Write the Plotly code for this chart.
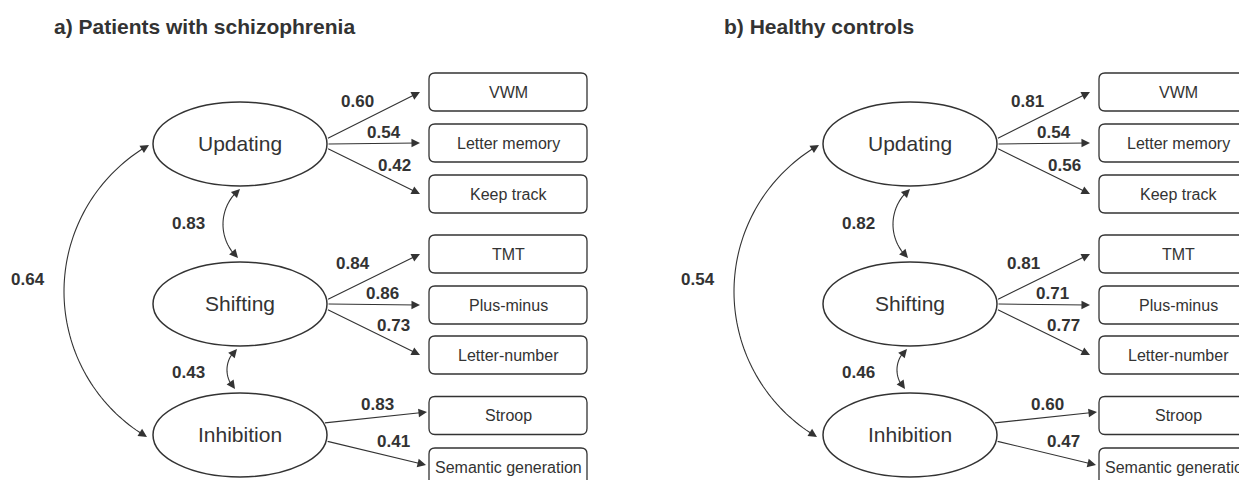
import numpy as np
import plotly.graph_objects as go

# ---------------- data ----------------
panel_titles = ["a) Patients with schizophrenia", "b) Healthy controls"]
factors = ["Updating", "Shifting", "Inhibition"]
indicators = ["VWM", "Letter memory", "Keep track", "TMT", "Plus-minus",
              "Letter-number", "Stroop", "Semantic generation"]
indicator_factor = [0, 0, 0, 1, 1, 1, 2, 2]
loadings_a = [0.60, 0.54, 0.42, 0.84, 0.86, 0.73, 0.83, 0.41]
loadings_b = [0.81, 0.54, 0.56, 0.81, 0.71, 0.77, 0.60, 0.47]
# factor correlations: Updating-Shifting, Shifting-Inhibition, Updating-Inhibition
corr_pairs = [(0, 1), (1, 2), (0, 2)]
corr_a = [0.83, 0.43, 0.64]
corr_b = [0.82, 0.46, 0.54]

# ---------------- layout constants (pixels) ----------------
W, H = 1247, 480
PAGE_OFF = 8          # default page margin around the plot div
FONT = "Liberation Sans, Arial, Helvetica, sans-serif"
INK = "#333333"
PANEL_DX = [0, 670]
FX = 240
FY = [144, 304, 435]
RX, RY = 87, 42
BX0, BX1 = 429, 587
BOX_Y = [92, 143, 194, 254, 305, 355, 415.5, 467]
BOX_H = 38
TAIL_DY = [-5, 0, 4, -4, 0, 5, -12, 6]
TIP_GAP = [9, 9, 9, 9, 9, 9, 2, 3]
TIP_DY = [0, 0, 0, 0, 0, 0, -3.5, -2]
LABEL_OFF = [(-16, -14.5), (10.5, -11.5), (20.7, -6), (-20, -14), (8.5, -11.5),
             (20, -7), (2, -13.5), (17, -12)]
# curved arrows: (start tip, end tip, bulge x), label position
CURVES = [((240, 189), (238, 258), 223),
          ((237, 349), (235, 389), 227),
          ((149, 145), (147, 437), 64)]
CURVE_LABEL = [(188, 223), (188, 372), (28, 279)]

fig = go.Figure()
shapes, annots = [], []


def rounded_rect(x0, y0, x1, y1, r):
    return (f"M{x0+r},{y0} L{x1-r},{y0} Q{x1},{y0} {x1},{y0+r} L{x1},{y1-r} "
            f"Q{x1},{y1} {x1-r},{y1} L{x0+r},{y1} Q{x0},{y1} {x0},{y1-r} "
            f"L{x0},{y0+r} Q{x0},{y0} {x0+r},{y0} Z")


def arrow(tip, tail, size=1.55, width=1.1):
    annots.append(dict(x=tip[0], y=tip[1], ax=tail[0], ay=tail[1],
                       xref="x", yref="y", axref="x", ayref="y", text="",
                       showarrow=True, arrowhead=2, arrowsize=size,
                       arrowwidth=width, arrowcolor=INK, standoff=0))


def arc_points(p1, p2, bx):
    pm = np.array([bx, (p1[1] + p2[1]) / 2.0])
    a, b, c = np.array(p1, float), pm, np.array(p2, float)
    d = 2 * (a[0]*(b[1]-c[1]) + b[0]*(c[1]-a[1]) + c[0]*(a[1]-b[1]))
    ux = ((a@a)*(b[1]-c[1]) + (b@b)*(c[1]-a[1]) + (c@c)*(a[1]-b[1])) / d
    uy = ((a@a)*(c[0]-b[0]) + (b@b)*(a[0]-c[0]) + (c@c)*(b[0]-a[0])) / d
    r = np.hypot(a[0]-ux, a[1]-uy)
    t1 = np.arctan2(a[1]-uy, a[0]-ux)
    tm = np.arctan2(b[1]-uy, b[0]-ux)
    t2 = np.arctan2(c[1]-uy, c[0]-ux)

    def unwrap(t, ref):
        while t - ref > np.pi:
            t -= 2*np.pi
        while t - ref < -np.pi:
            t += 2*np.pi
        return t
    tm = unwrap(tm, t1)
    t2 = unwrap(t2, tm)
    return ux, uy, r, t1, t2


for p, (title, loads, corrs) in enumerate(zip(panel_titles, [loadings_a, loadings_b],
                                              [corr_a, corr_b])):
    dx = PANEL_DX[p]
    annots.append(dict(x=52 + dx, y=26, xref="x", yref="y", text=f"<b>{title}</b>",
                       showarrow=False, xanchor="left", yanchor="middle",
                       font=dict(family=FONT, size=21, color=INK)))
    # latent factors
    for k, name in enumerate(factors):
        shapes.append(dict(type="circle", xref="x", yref="y",
                           x0=FX-RX+dx, x1=FX+RX+dx, y0=FY[k]-RY, y1=FY[k]+RY,
                           line=dict(color=INK, width=1.5), fillcolor="white"))
        annots.append(dict(x=FX+dx, y=FY[k]-1, xref="x", yref="y", text=name,
                           showarrow=False, font=dict(family=FONT, size=21, color=INK)))
    # indicators
    for i, name in enumerate(indicators):
        y0, y1 = BOX_Y[i] - BOX_H/2, BOX_Y[i] + BOX_H/2
        shapes.append(dict(type="path", xref="x", yref="y",
                           path=rounded_rect(BX0+dx, y0, BX1+dx, y1, 6),
                           line=dict(color=INK, width=1.3), fillcolor="white"))
        annots.append(dict(x=(BX0+BX1)/2+dx, y=BOX_Y[i], xref="x", yref="y", text=name,
                           showarrow=False, font=dict(family=FONT, size=16, color=INK)))
        f = indicator_factor[i]
        ty = FY[f] + TAIL_DY[i]
        tx = FX + RX*np.sqrt(1 - (TAIL_DY[i]/RY)**2)
        tipx, tipy = BX0 - TIP_GAP[i], BOX_Y[i] + TIP_DY[i]
        arrow((tipx+dx, tipy), (tx+dx, ty))
        mx, my = (tx+tipx)/2 + LABEL_OFF[i][0], (ty+tipy)/2 + LABEL_OFF[i][1]
        annots.append(dict(x=mx+dx, y=my, xref="x", yref="y",
                           text=f"<b>{loads[i]:.2f}</b>", showarrow=False,
                           font=dict(family=FONT, size=17, color=INK)))
    # correlations (curved double-headed arrows)
    for j, (c, (p1, p2, bx)) in enumerate(zip(corrs, CURVES)):
        ux, uy, r, t1, t2 = arc_points(p1, p2, bx)
        trim = 4.0 / r
        back = 10.0 / r
        sgn = np.sign(t2 - t1)
        tt = np.linspace(t1 + sgn*trim, t2 - sgn*trim, 80)
        xs = ux + r*np.cos(tt) + dx
        ys = uy + r*np.sin(tt)
        path = "M" + " L".join(f"{x:.2f},{y:.2f}" for x, y in zip(xs, ys))
        shapes.append(dict(type="path", xref="x", yref="y", path=path,
                           line=dict(color=INK, width=1.1)))
        for tend, tb in [(t1, t1 + sgn*back), (t2, t2 - sgn*back)]:
            tip = (ux + r*np.cos(tend) + dx, uy + r*np.sin(tend))
            tail = (ux + r*np.cos(tb) + dx, uy + r*np.sin(tb))
            arrow(tip, tail)
        lx, ly = CURVE_LABEL[j]
        annots.append(dict(x=lx+dx, y=ly, xref="x", yref="y",
                           text=f"<b>{c:.2f}</b>", showarrow=False,
                           font=dict(family=FONT, size=17, color=INK)))

# invisible anchor trace (box centres) so the cartesian axes exist
fig.add_trace(go.Scatter(x=[(BX0+BX1)/2]*len(BOX_Y), y=BOX_Y, mode="markers",
                         marker=dict(opacity=0), hoverinfo="skip", showlegend=False))

fig.update_layout(width=W, height=H, margin=dict(l=0, r=0, t=0, b=0),
                  paper_bgcolor="white", plot_bgcolor="white",
                  shapes=shapes, annotations=annots, showlegend=False)
# axis ranges chosen so that one data unit = one screen pixel from the window corner
fig.update_xaxes(range=[PAGE_OFF, W + PAGE_OFF], visible=False, fixedrange=True)
fig.update_yaxes(range=[H + PAGE_OFF, PAGE_OFF], visible=False, fixedrange=True)
fig.write_html("out.html")
